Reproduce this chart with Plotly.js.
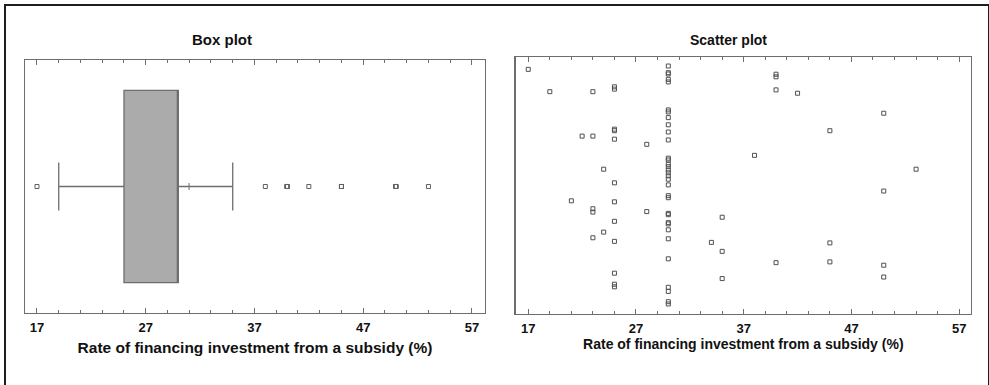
<!DOCTYPE html>
<html>
<head>
<meta charset="utf-8">
<script src="https://cdn.plot.ly/plotly-3.0.1.min.js"></script>
<style>
  html, body { margin: 0; padding: 0; background: #fff; }
  #wrap { position: relative; width: 989px; height: 385px; overflow: hidden; }
  #chart { position: absolute; left: 0; top: 0; width: 989px; height: 385px; }
  #frame { position: absolute; left: 4px; top: 4px; width: 982px; height: 400px;
           border: 2px solid #1e1e1e; pointer-events: none; }
</style>
</head>
<body>
<div id="wrap">
  <div id="chart"></div>
  <div id="frame"></div>
</div>
<script>
// Rate of financing investment from a subsidy (%) per observation
const rateValues = [
  17, 19, 21, 22,
  23, 23, 23, 23, 23,
  24, 24,
  25, 25, 25, 25, 25, 25, 25, 25, 25, 25, 25, 25,
  28, 28,
  30, 30, 30, 30, 30, 30, 30, 30, 30, 30, 30,
  30, 30, 30, 30, 30, 30, 30, 30, 30, 30, 30,
  30, 30, 30, 30, 30, 30, 30, 30, 30, 30, 30,
  34, 35, 35, 35, 38,
  40, 40, 40, 40, 42,
  45, 45, 45,
  50, 50, 50, 50, 53
];
// vertical jitter position of each observation in the scatter plot (0-100)
const jitterValues = [
  95.3, 86.6, 44.1, 69.3,
  86.6, 69.3, 41.0, 39.7, 29.7,
  56.4, 31.9,
  88.5, 87.6, 72.0, 71.4, 68.1, 51.1, 43.7, 36.1, 28.3, 15.9, 11.6, 10.6,
  66.1, 39.9,
  96.6, 94.0, 93.5, 91.4, 90.4, 79.5, 78.7, 76.5, 73.7, 70.9, 67.8,
  60.7, 60.0, 58.3, 57.4, 56.1, 55.0, 53.8, 52.5, 50.3, 46.1, 45.3,
  39.2, 38.7, 35.6, 35.1, 32.8, 29.3, 21.5, 10.4, 8.8, 4.8, 3.9,
  27.9, 37.7, 24.4, 13.8, 61.8,
  93.4, 92.4, 87.3, 20.0, 86.0,
  71.4, 27.7, 20.3,
  78.2, 47.9, 19.0, 14.4, 56.4
];
const boxTitle = "Box plot";
const scatterTitle = "Scatter plot";
const axisTitle = "Rate of financing investment from a subsidy (%)";

const meanRate = rateValues.reduce((a, b) => a + b, 0) / rateValues.length;

const FONT = "Liberation Sans, Arial, sans-serif";
const LINE = "#6e6e6e";

const traces = [
  {
    type: "box",
    x: rateValues,
    y0: 0,
    orientation: "h",
    boxpoints: "outliers",
    jitter: 0,
    width: 0.76,
    whiskerwidth: 0.25,
    fillcolor: "#ababab",
    line: { color: LINE, width: 1.3 },
    marker: { symbol: "square-open", size: 4, color: "#606060",
              line: { width: 1 }, outliercolor: "#606060" },
    xaxis: "x", yaxis: "y",
    hoverinfo: "x"
  },
  {
    type: "scatter",
    mode: "markers",
    x: [meanRate],
    y: [0],
    marker: { symbol: "line-ns", size: 5, line: { color: LINE, width: 1 } },
    xaxis: "x", yaxis: "y",
    hoverinfo: "x"
  },
  {
    type: "scatter",
    mode: "markers",
    x: rateValues,
    y: jitterValues,
    marker: { symbol: "square-open", size: 4, color: "#505050", line: { width: 1 } },
    xaxis: "x2", yaxis: "y2",
    hoverinfo: "x"
  }
];

function xAxis(domain, range, titleSize, standoff) {
  return {
    domain: domain,
    range: range,
    tick0: 17, dtick: 10,
    ticks: "inside", ticklen: 5, tickwidth: 1, tickcolor: LINE,
    ticklabelstandoff: 2,
    minor: { tick0: 17, dtick: 2, ticks: "inside", ticklen: 3, tickwidth: 1, tickcolor: LINE },
    showline: true, linecolor: LINE, linewidth: 1.3, mirror: "ticks",
    showgrid: false, zeroline: false,
    tickfont: { family: FONT, size: 13, weight: "bold", color: "#111" },
    title: { text: axisTitle, standoff: standoff,
             font: { family: FONT, size: titleSize, weight: "bold", color: "#111" } },
    automargin: false,
    fixedrange: true
  };
}

const layout = {
  width: 989, height: 385,
  margin: { l: 0, r: 0, t: 0, b: 0 },
  paper_bgcolor: "#ffffff",
  plot_bgcolor: "#ffffff",
  showlegend: false,
  xaxis: xAxis([0.0253, 0.4904], [15.9, 58.2], 15.5, 8),
  yaxis: {
    domain: [0.187, 0.8442], range: [-0.5, 0.5],
    showticklabels: false, ticks: "", showgrid: false, zeroline: false,
    showline: true, linecolor: LINE, linewidth: 1.3, mirror: true,
    automargin: false, fixedrange: true
  },
  xaxis2: Object.assign(xAxis([0.5214, 0.9818], [15.83, 58.1], 14, 1), { anchor: "y2" }),
  yaxis2: {
    domain: [0.1844, 0.8512], range: [0, 100], anchor: "x2",
    showticklabels: false, ticks: "", showgrid: false, zeroline: false,
    showline: true, linecolor: LINE, linewidth: 1.3, mirror: true,
    automargin: false, fixedrange: true
  },
  annotations: [
    { text: boxTitle, xref: "paper", yref: "paper", x: 222 / 989, y: 1 - 39 / 385,
      xanchor: "center", yanchor: "middle", showarrow: false,
      font: { family: FONT, size: 15, weight: "bold", color: "#111" } },
    { text: scatterTitle, xref: "paper", yref: "paper", x: 728 / 989, y: 1 - 40 / 385,
      xanchor: "center", yanchor: "middle", showarrow: false,
      font: { family: FONT, size: 14, weight: "bold", color: "#111" } }
  ]
};

Plotly.newPlot("chart", traces, layout, { displayModeBar: false, staticPlot: true });
</script>
</body>
</html>
